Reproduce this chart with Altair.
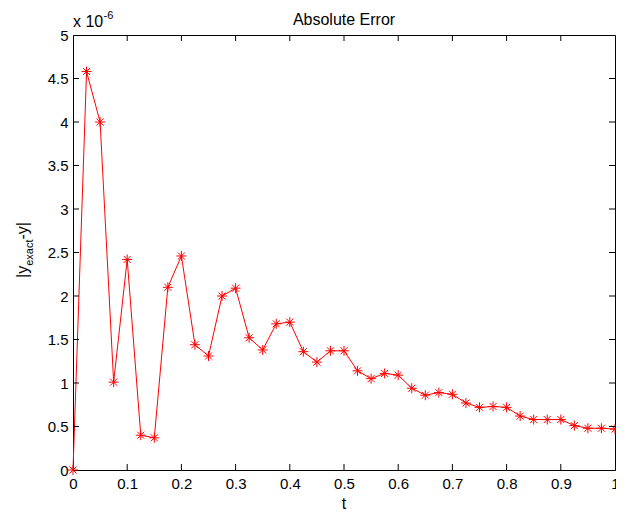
import altair as alt
import pandas as pd

# ---- data (values in units of 1e-6) ----
t_vals = [0.0, 0.025, 0.05, 0.075, 0.1, 0.125, 0.15, 0.175, 0.2, 0.225,
          0.25, 0.275, 0.3, 0.325, 0.35, 0.375, 0.4, 0.425, 0.45, 0.475,
          0.5, 0.525, 0.55, 0.575, 0.6, 0.625, 0.65, 0.675, 0.7, 0.725,
          0.75, 0.775, 0.8, 0.825, 0.85, 0.875, 0.9, 0.925, 0.95, 0.975, 1.0]
err_vals = [0.0, 4.58, 4.00, 1.01, 2.42, 0.40, 0.37, 2.10, 2.46, 1.44,
            1.31, 2.00, 2.09, 1.52, 1.38, 1.68, 1.70, 1.36, 1.24, 1.37,
            1.37, 1.14, 1.05, 1.11, 1.09, 0.94, 0.86, 0.89, 0.87, 0.77,
            0.72, 0.73, 0.72, 0.62, 0.58, 0.58, 0.58, 0.51, 0.48, 0.48, 0.47]
x_ticks = [0, 0.1, 0.2, 0.3, 0.4, 0.5, 0.6, 0.7, 0.8, 0.9, 1]
y_ticks = [0, 0.5, 1, 1.5, 2, 2.5, 3, 3.5, 4, 4.5, 5]
title_text = "Absolute Error"
x_title = "t"
y_title_parts = ["|y", "exact", "-y|"]
exp_parts = ["x 10", "-6"]

W, H = 542, 435
PAD_L, PAD_T, PAD_R, PAD_B = 65, 27, 1, 42
FONT = "Liberation Sans"
RED = "#ff0000"

df = pd.DataFrame({"t": t_vals, "e": err_vals})
xt = pd.DataFrame({"v": x_ticks[1:-1]})
yt = pd.DataFrame({"v": y_ticks[1:-1]})
one = pd.DataFrame({"k": [0]})

xscale = alt.Scale(domain=[0, 1], nice=False, zero=False)
yscale = alt.Scale(domain=[0, 5], nice=False, zero=False)

xaxis = alt.Axis(values=x_ticks, format="~g", title=None, grid=False, ticks=False,
                 domainColor="black", labelColor="black", labelFont=FONT,
                 labelFontSize=15, labelPadding=6, labelFlush=False,
                 labelOverlap=False)
yaxis = alt.Axis(values=y_ticks, format="~g", title=None, grid=False, ticks=False,
                 domainColor="black", labelColor="black", labelFont=FONT,
                 labelFontSize=15, labelPadding=5, labelFlush=False,
                 labelOverlap=False, labelBaseline="middle")

base = alt.Chart(df)
line = base.mark_line(color=RED, strokeWidth=1).encode(
    x=alt.X("t:Q", scale=xscale, axis=xaxis),
    y=alt.Y("e:Q", scale=yscale, axis=yaxis),
)
star = "M-1,0L1,0M0,-1L0,1M-0.7,-0.7L0.7,0.7M-0.7,0.7L0.7,-0.7"
pts = base.mark_point(shape=star, filled=False, color=RED, size=100,
                      strokeWidth=1, opacity=1).encode(
    x=alt.X("t:Q", scale=xscale),
    y=alt.Y("e:Q", scale=yscale),
)

tick_b = alt.Chart(xt).mark_rule(color="black", strokeWidth=1).encode(
    x=alt.X("v:Q", scale=xscale), y=alt.value(H), y2=alt.value(H - 6))
tick_t = alt.Chart(xt).mark_rule(color="black", strokeWidth=1).encode(
    x=alt.X("v:Q", scale=xscale), y=alt.value(0), y2=alt.value(6))
tick_l = alt.Chart(yt).mark_rule(color="black", strokeWidth=1).encode(
    y=alt.Y("v:Q", scale=yscale), x=alt.value(0), x2=alt.value(6))
tick_r = alt.Chart(yt).mark_rule(color="black", strokeWidth=1).encode(
    y=alt.Y("v:Q", scale=yscale), x=alt.value(W), x2=alt.value(W - 6))

def txt(s, x, y, size=16, align="left", angle=0, baseline="alphabetic"):
    kw = dict(text=s, font=FONT, fontSize=size, color="black", align=align,
              baseline=baseline)
    if angle:
        kw["angle"] = angle
    return alt.Chart(one).mark_text(**kw).encode(x=alt.value(x), y=alt.value(y))

title = txt(title_text, W / 2, -10, size=16, align="center")
xlab = txt(x_title, W / 2, H + 39, size=16, align="center")
exp1 = txt(exp_parts[0], 0, -8, size=16)
exp2 = txt(exp_parts[1], 30.5, -16, size=11)

# rotated y label with subscript (view coords; view starts at page x=73)
yb = 243
ylab1 = txt(y_title_parts[0], -45, yb, size=16, angle=270)
ylab2 = txt(y_title_parts[1], -40, yb - 12.2, size=11, angle=270)
ylab3 = txt(y_title_parts[2], -45, yb - 12.2 - 26.3, size=16, angle=270)

chart = alt.layer(
    line, pts, tick_b, tick_t, tick_l, tick_r,
    title, xlab, exp1, exp2, ylab1, ylab2, ylab3,
).properties(
    width=W, height=H, autosize="none",
    padding={"left": PAD_L, "top": PAD_T, "right": PAD_R, "bottom": PAD_B},
    background="white",
).configure_view(stroke="black", strokeWidth=1)

chart.save("out.html", embed_options={"renderer": "svg", "actions": False})
